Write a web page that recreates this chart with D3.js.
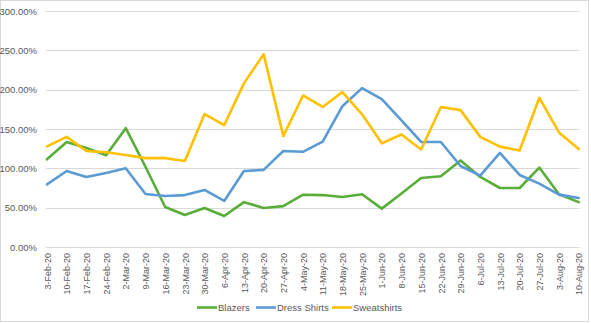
<!DOCTYPE html>
<html>
<head>
<meta charset="utf-8">
<script src="https://cdn.jsdelivr.net/npm/d3@7"></script>
<style>
  html, body { margin: 0; padding: 0; background: #fff; }
  svg { display: block; }
  text { font-family: "Liberation Sans Narrow", "Liberation Sans", Arial, sans-serif; fill: #595959; }
</style>
</head>
<body>
<svg id="chart" width="591" height="323"></svg>
<script>
const categories = ["3-Feb-20","10-Feb-20","17-Feb-20","24-Feb-20","2-Mar-20","9-Mar-20","16-Mar-20","23-Mar-20","30-Mar-20","6-Apr-20","13-Apr-20","20-Apr-20","27-Apr-20","4-May-20","11-May-20","18-May-20","25-May-20","1-Jun-20","8-Jun-20","15-Jun-20","22-Jun-20","29-Jun-20","6-Jul-20","13-Jul-20","20-Jul-20","27-Jul-20","3-Aug-20","10-Aug-20"];

const blazers = [111.5,133.5,126,116.6,151,102,50.9,40.7,49.6,39.4,57,49.6,52,66.5,66,63.6,67,48.8,68,87.7,90,110,89,75,75,101,67,57];
const dressShirts = [79.7,96.6,89,94,100,67.4,64.9,66,72.5,58.5,96.6,98,122,121,134,179,202,188,161,133.5,133.5,103,90.8,119.6,91.6,80.6,66.6,62.4];
const sweatshirts = [128,140,122,120.4,117,113,113,109.3,169,155,208,245,141,192.6,178,197,168.7,131.8,143,124,178,174,140,127.6,122.6,189.7,145.7,124.5];

const yTicks = [0,50,100,150,200,250,300];
const seriesNames = ["Blazers","Dress Shirts","Sweatshirts"];
const seriesColors = ["#58AE38","#5B9BD5","#FFC000"];
const seriesData = [blazers, dressShirts, sweatshirts];

const svg = d3.select("#chart");

// outer border
svg.append("rect")
  .attr("x", 0.5).attr("y", 0.5)
  .attr("width", 588).attr("height", 321)
  .attr("fill", "#fff").attr("stroke", "#d9d9d9").attr("stroke-width", 1);

const x = d3.scalePoint().domain(categories).range([47, 578.7]);
const y = d3.scaleLinear().domain([0, 300]).range([247, 11]);

// gridlines
svg.append("g").selectAll("line").data(yTicks).join("line")
  .attr("x1", 46).attr("x2", 579.5)
  .attr("y1", d => Math.round(y(d)) + 0.5).attr("y2", d => Math.round(y(d)) + 0.5)
  .attr("stroke", "#d9d9d9").attr("stroke-width", 1);

// y axis labels
const yAxis = d3.axisLeft(y).tickValues(yTicks).tickSize(0).tickPadding(0)
  .tickFormat(d => d3.format(".2f")(d) + "%");
const gy = svg.append("g").attr("transform", "translate(37,0)").call(yAxis);
gy.select(".domain").remove();
gy.selectAll("text").style("font-size", "9.5px").attr("fill", "#595959")
  .style("font-family", '"Liberation Sans Narrow", "Liberation Sans", Arial, sans-serif');

// x axis labels (rotated)
const xAxis = d3.axisBottom(x).tickSize(0).tickPadding(0);
const gx = svg.append("g").attr("transform", "translate(0,247)").call(xAxis);
gx.select(".domain").remove();
gx.selectAll("text")
  .style("font-size", "9px").attr("fill", "#595959")
  .style("font-family", '"Liberation Sans Narrow", "Liberation Sans", Arial, sans-serif')
  .attr("text-anchor", "end")
  .attr("transform", "translate(0,6) rotate(-90)")
  .attr("x", 0).attr("y", 0).attr("dy", "0.35em");

// lines
const line = d3.line().x((d, i) => x(categories[i])).y(d => y(d));
svg.append("g").selectAll("path").data(seriesData).join("path")
  .attr("d", d => line(d))
  .attr("fill", "none")
  .attr("stroke", (d, i) => seriesColors[i])
  .attr("stroke-width", 2.6)
  .attr("stroke-linejoin", "round")
  .attr("stroke-linecap", "round");

// legend
const legendX = [197, 256, 332];
const lg = svg.append("g");
seriesNames.forEach((name, i) => {
  lg.append("line")
    .attr("x1", legendX[i]).attr("x2", legendX[i] + 20)
    .attr("y1", 307.5).attr("y2", 307.5)
    .attr("stroke", seriesColors[i]).attr("stroke-width", 2.6);
  lg.append("text")
    .attr("x", legendX[i] + 21).attr("y", 307.5).attr("dy", "0.35em")
    .style("font-size", "9.5px")
    .text(name);
});
</script>
</body>
</html>
